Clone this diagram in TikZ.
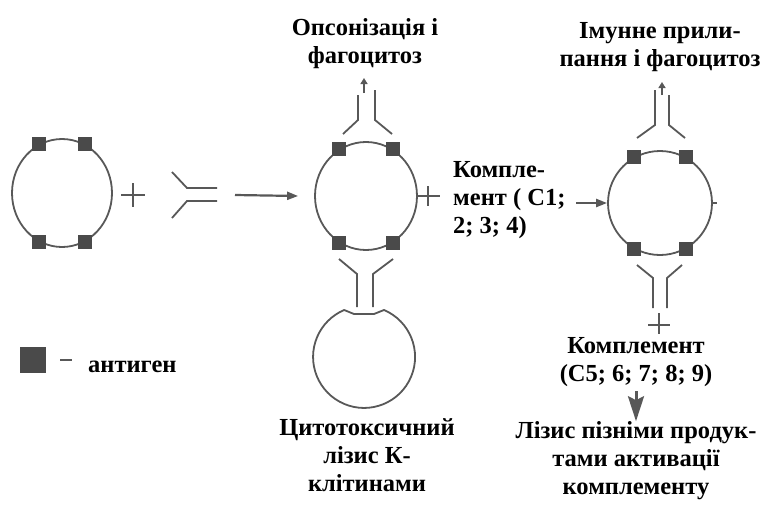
\documentclass[tikz,border=0pt]{standalone}
\usepackage{fontspec}
\setmainfont{Liberation Serif}
\usetikzlibrary{shapes.geometric, arrows.meta}

\definecolor{membrane}{HTML}{585858}
\definecolor{antigenfill}{HTML}{4A4A4A}

\tikzstyle {cell} = [draw=membrane, line width=1.8, ellipse, inner sep=0pt]
\tikzstyle {antigen} = [fill=antigenfill, minimum size=14, inner sep=0pt]
\tikzstyle {ab} = [draw=membrane, line width=1.8]
\tikzstyle {txt} = [font=\bfseries\fontsize{24.5}{27.8}\selectfont, align=center, inner sep=0pt]
\tikzstyle {arr} = [ab, line width=2.2, -{Triangle[length=11, width=8]}]
\tikzstyle {smallarr} = [ab, -{Triangle[length=6, width=7]}]
\tikzstyle {fatarr} = [ab, line width=3, -{Stealth[length=25, width=16, inset=4]}]

\begin{document}
\begin{tikzpicture}[x=1pt, y=-1pt]
\useasboundingbox (0,0) rectangle (769,509);

% cells with antigens
\node[cell, minimum width=100, minimum height=108] (c1) at (62,193) {};
\node[cell, minimum width=102, minimum height=108] (c2) at (366,196) {};
\node[cell, minimum width=104, minimum height=104] (c3) at (660,203) {};
\foreach \a in {65,115,245,295} \node[antigen] at (c1.\a) {};
\foreach \a in {60,120,240,300} {
  \node[antigen] at (c2.\a) {};
  \node[antigen] at (c3.\a) {};
}

% K-cell with notch
\draw[ab] (384,310) arc[start angle=-67, end angle=247, radius=51]
  -- (354,314) -- (374,314) -- cycle;

% free antibody
\draw[ab] (172,172) -- (187,188) -- (217,188);
\draw[ab] (172,218) -- (187,201) -- (217,201);
\coordinate (ab1) at (217,195);

% antibodies on the middle cell
\draw[ab] (343,134) -- (358,120) -- (358,95);
\draw[ab] (392,134) -- (375,120) -- (375,90);
\draw[smallarr] (364,93) -- (364,78);
\draw[ab] (339,259) -- (357,274) -- (357,307);
\draw[ab] (393,259) -- (373,274) -- (373,307);

% antibodies on the right cell
\draw[ab] (637,138) -- (655,125) -- (655,90);
\draw[ab] (685,138) -- (669,125) -- (669,95);
\draw[smallarr] (662,95) -- (662,82);
\draw[ab] (637,265) -- (653,278) -- (653,308);
\draw[ab] (682,265) -- (667,278) -- (667,308);

% pluses
\draw[ab] (121,195) -- (145,195) (133,183) -- (133,207);
\draw[ab] (c2.east) -- ++(22,0) (428,186) -- (428,206);
\draw[ab] (c3.east) -- ++(4,0);
\draw[ab] (648,325) -- (670,325) (659,313) -- (659,334);

% labels (base = last line)
\node[txt, anchor=base] (opson) at (365,63) {Опсонізація і\\фагоцитоз};
\node[txt, anchor=base] (adher) at (660,66) {Імунне прили-\\пання і фагоцитоз};
\node[txt, anchor=base west, align=left] (compl1) at (453,233) {Компле-\\мент ( С1;\\2; 3; 4)};
\node[txt, anchor=base] (kcell) at (367,491) {Цитотоксичний\\лізис К-\\клітинами};
\node[txt, anchor=base] (compl2) at (636,381) {Комплемент\\(С5; 6; 7; 8; 9)};
\node[txt, anchor=base] (lysis) at (636,494) {Лізис пізніми продук-\\тами активації\\комплементу};

% arrows
\draw[arr] ([xshift=18]ab1) -- ([xshift=-16]c2.west);
\draw[arr] ([xshift=-31]c3.west) -- (c3.west);
\draw[fatarr, shorten <=5, shorten >=0] (compl2.south) -- (compl2.south |- lysis.north);

% legend
\node[antigen, minimum size=26] (leg) at (33,360) {};
\draw[ab] ([xshift=14]leg.east) -- ++(12,0);
\node[txt, anchor=base west] (legtxt) at (88,372) {антиген};
\end{tikzpicture}
\end{document}
